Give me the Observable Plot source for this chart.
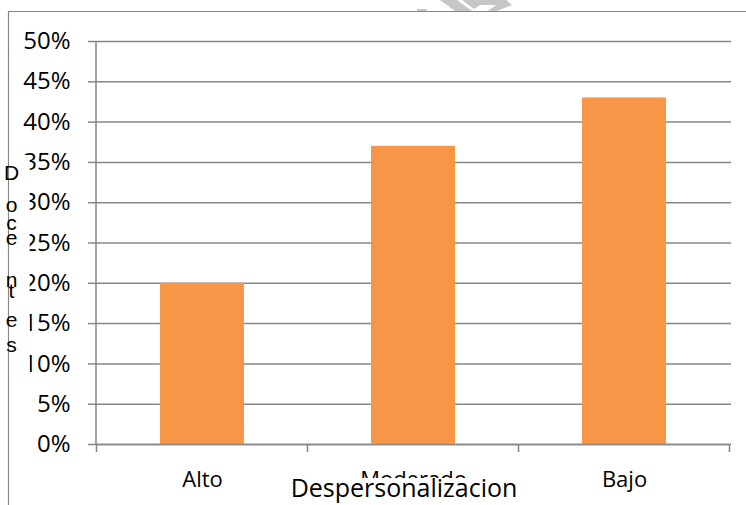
<!DOCTYPE html>
<html>
<head>
<meta charset="utf-8">
<script src="https://cdn.jsdelivr.net/npm/d3@7"></script>
<script src="https://cdn.jsdelivr.net/npm/@observablehq/plot@0.6"></script>
<style>
  html, body { margin: 0; padding: 0; background: #fff; }
  #chart { width: 746px; height: 505px; }
</style>
</head>
<body>
<div id="chart"></div>
<script>
// Share of teachers by depersonalization level
const categories = ["Alto", "Moderado", "Bajo"];
const values = [0.20, 0.37, 0.43];
const yTicks = [0, 0.05, 0.10, 0.15, 0.20, 0.25, 0.30, 0.35, 0.40, 0.45, 0.50];
const xTitle = "Despersonalizacion";
const yTitle = "Docentes";

const data = categories.map((c, i) => ({category: c, value: values[i]}));

const gray = "#878787";
const barColor = "#F79646";
const font = "'Open Sans', sans-serif";

const chart = Plot.plot({
  width: 746,
  height: 505,
  marginLeft: 96,
  marginRight: 15,
  marginTop: 41,
  marginBottom: 61,
  style: {fontFamily: font, background: "#fff", color: "#000", overflow: "visible"},
  x: {domain: categories, paddingInner: 0.6, paddingOuter: 0.3},
  y: {domain: [0, 0.5]},
  marks: [
    Plot.gridY(yTicks, {stroke: gray, strokeOpacity: 1, strokeWidth: 1.5}),
    Plot.barY(data, {x: "category", y: "value", fill: barColor}),
    Plot.ruleY([0], {stroke: gray, strokeWidth: 1.5}),
    Plot.axisY({
      ticks: yTicks, tickFormat: d3.format(".0%"), tickSize: 8, tickPadding: 18,
      stroke: gray, strokeWidth: 1.5, fill: "#000", fontSize: 24, label: null
    }),
    Plot.axisX({tickSize: 0, tickPadding: 27, fill: "#000", fontSize: 22, label: null})
  ]
});

document.getElementById("chart").appendChild(chart);

// Extra decorations: axis line, category separators, titles, outer border
const svg = d3.select(chart);
const xs = chart.scale("x");
const ys = chart.scale("y");
const y0 = ys.apply(0);
const yTop = ys.apply(0.5);
const left = xs.range[0];
const right = xs.range[1];

// vertical value axis line
svg.append("line")
  .attr("x1", left).attr("x2", left)
  .attr("y1", yTop).attr("y2", y0)
  .attr("stroke", gray).attr("stroke-width", 1.5);

// category separator ticks on the band boundaries
const bounds = categories.map(c => xs.apply(c) + xs.bandwidth / 2 - xs.step / 2);
bounds.push(xs.apply(categories[categories.length - 1]) + xs.bandwidth / 2 + xs.step / 2);
svg.append("g").selectAll("line").data(bounds).join("line")
  .attr("x1", d => d).attr("x2", d => d)
  .attr("y1", y0).attr("y2", y0 + 8)
  .attr("stroke", gray).attr("stroke-width", 1.5);

// faint watermark fragment along the top edge
const wm = svg.append("g").attr("fill", "#c6c6c6");
wm.append("polygon").attr("points", "440,0 457,0 472,11 455,11");
wm.append("polygon").attr("points", "462,0 506,0 512,5 497,11 488,11 496,5 480,5 474,9");
wm.append("polygon").attr("points", "417,9 426,9 427,11 417,11");

// outer border (top and left edges)
svg.append("path")
  .attr("d", "M746,11.5 H8.5 V505")
  .attr("fill", "none").attr("stroke", gray).attr("stroke-width", 1.2);

// x-axis title on a white box
const titleX = (left + right) / 2 - 9.5;
svg.append("rect")
  .attr("x", titleX - 121).attr("y", 478).attr("width", 242).attr("height", 27)
  .attr("fill", "#fff");
svg.append("text")
  .attr("x", titleX).attr("y", 497)
  .attr("text-anchor", "middle")
  .style("font-family", font).style("font-size", "25px").attr("fill", "#000")
  .text(xTitle);

// y-axis title, one letter per line on a white box
svg.append("rect")
  .attr("x", 9.2).attr("y", 155).attr("width", 20.5).attr("height", 220)
  .attr("fill", "#fff");
const letterBaselines = [180, 212, 230, 245, 287, 298, 327, 352];
svg.append("g").selectAll("text").data(Array.from(yTitle)).join("text")
  .attr("x", 11.5)
  .attr("y", (d, i) => letterBaselines[i])
  .style("font-family", "'Liberation Sans', Arial, sans-serif")
  .style("font-size", "21px").attr("fill", "#000")
  .text(d => d);
</script>
</body>
</html>
